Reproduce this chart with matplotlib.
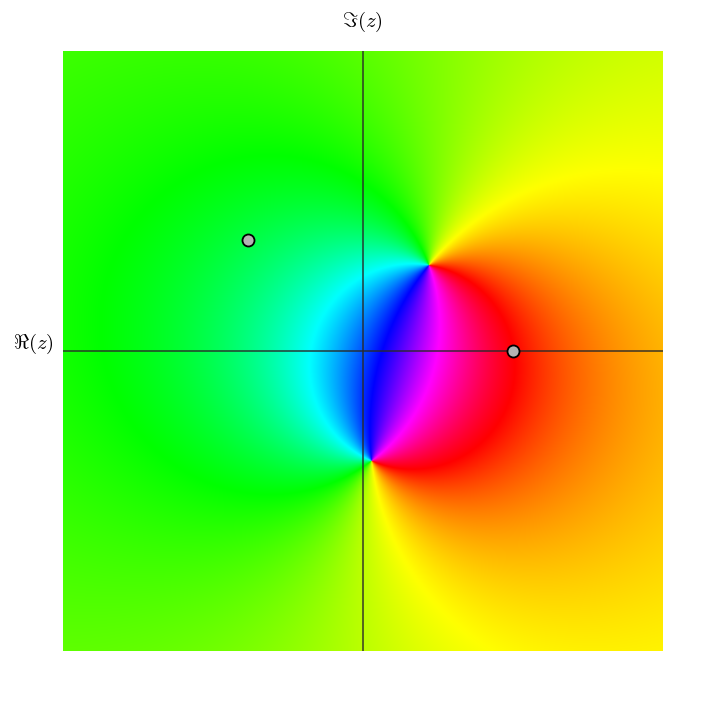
import matplotlib
matplotlib.use("Agg")
import matplotlib.pyplot as plt
from matplotlib.colors import hsv_to_rgb
import numpy as np

# Moebius map f(z) = k (z - zero) / (z - pole)
zero = complex(0.44, 0.573)
pole = complex(0.058, -0.733)
k = complex(0.18, 1.473)

fixed_re = [1.0, -0.767]
fixed_im = [0.0, 0.74]

x_range = [-2, 2]
y_range = [-2, 2]

W, H = 727, 703
fig = plt.figure(figsize=(W / 100, H / 100), dpi=100)
ax = fig.add_axes([63 / W, 1 - 651 / H, 600 / W, 600 / H])

re = np.linspace(x_range[0], x_range[1], 1200)
im = np.linspace(y_range[0], y_range[1], 1200)
X, Y = np.meshgrid(re, im)
Z = X + 1j * Y
F = k * (Z - zero) / (Z - pole)
hue = (np.angle(F) / (2 * np.pi)) % 1.0
rgb = hsv_to_rgb(np.dstack([hue, np.ones_like(hue), np.ones_like(hue)]))

ax.imshow(rgb, origin="lower", extent=[*x_range, *y_range], interpolation="antialiased", aspect="auto")
ax.axhline(0, color="#2a2a2a", lw=1.2, alpha=0.85)
ax.axvline(0, color="#2a2a2a", lw=1.2, alpha=0.85)
ax.scatter(fixed_re, fixed_im, s=75, color="#b3b3b3", edgecolor="black", lw=1.3, zorder=5, clip_on=False)

ax.set_xlim(x_range)
ax.set_ylim(y_range)
ax.axis("off")

plt.rcParams["mathtext.fontset"] = "cm"
fig.text(362 / W, 1 - 22 / H, r"$\Im(z)$", ha="center", va="center", fontsize=15, color="black")
fig.text(33 / W, 1 - 344 / H, r"$\Re(z)$", ha="center", va="center", fontsize=15, color="black")

fig.savefig("out.png", dpi=100)
